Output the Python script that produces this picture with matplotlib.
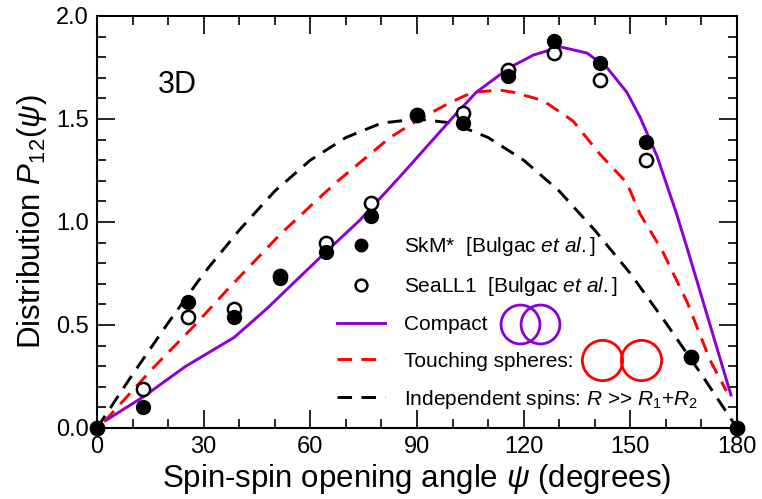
#!/usr/bin/env python3

import matplotlib
matplotlib.use('Agg')
import matplotlib.pyplot as plt
from matplotlib.lines import Line2D

plt.rcParams['font.family'] = ['Liberation Sans', 'DejaVu Sans']
plt.rcParams['mathtext.fontset'] = 'custom'
plt.rcParams['mathtext.rm'] = 'Liberation Sans'
plt.rcParams['mathtext.it'] = 'Liberation Sans:italic'
for a in ('xtick', 'ytick'):
    plt.rcParams[a + '.direction'] = 'in'
    plt.rcParams[a + '.major.size'] = 13
    plt.rcParams[a + '.minor.size'] = 6.5
    plt.rcParams[a + '.major.width'] = 1.2
    plt.rcParams[a + '.minor.width'] = 1.2
    plt.rcParams[a + '.color'] = 'black'
plt.rcParams['xtick.top'] = True
plt.rcParams['ytick.right'] = True

# Microscopic calculations (Bulgac et al.)
psi = [0, 12.86, 25.71, 38.57, 51.43, 64.29, 77.14, 90, 102.86, 115.71, 128.57, 141.43, 154.29, 167.14, 180]
skm = [0.0, 0.10, 0.61, 0.54, 0.73, 0.855, 1.03, 1.52, 1.48, 1.71, 1.88, 1.77, 1.39, 0.345, 0.0]
seall1 = [0.0, 0.19, 0.54, 0.58, 0.74, 0.90, 1.09, 1.52, 1.53, 1.74, 1.82, 1.69, 1.30, 0.345, 0.0]

# Compact configuration
compact_psi = [2.8, 12.9, 25.0, 38.6, 47.8, 64.7, 74.0, 85.2, 100.2, 106.7, 116.1, 122.7, 130.3,
               137.8, 143.4, 149.0, 152.7, 157.5, 163.0, 166.2, 178.3]
compact_P = [0.04, 0.15, 0.30, 0.44, 0.58, 0.86, 1.01, 1.22, 1.51, 1.63, 1.75, 1.81, 1.85,
             1.82, 1.75, 1.63, 1.51, 1.32, 1.04, 0.86, 0.16]

# Touching spheres
touch_psi = [2.0, 5.0, 15.7, 27.0, 36.6, 51.5, 62.7, 67.8, 82.4, 90.8, 99.3, 105.7, 113.3, 117.0,
             125.4, 133.9, 141.4, 149.0, 152.7, 159.0, 166.0, 172.4, 177.0]
touch_P = [0.03, 0.087, 0.29, 0.49, 0.67, 0.94, 1.12, 1.20, 1.41, 1.50, 1.58, 1.63, 1.64, 1.63,
           1.59, 1.49, 1.33, 1.19, 1.04, 0.86, 0.61, 0.33, 0.18]

# Independent spins
indep_psi = [0, 10, 20, 30, 40, 50, 60, 70, 80, 90, 100, 110, 120, 130, 140, 150, 160, 170, 180]
indep_P = [0.0, 0.26, 0.51, 0.75, 0.96, 1.15, 1.30, 1.41, 1.48, 1.50, 1.48, 1.41, 1.30, 1.15,
           0.96, 0.75, 0.51, 0.26, 0.0]

purple = '#8c00d4'
lw = 2.1
dash = (5.0, 3.2)

fig = plt.figure(figsize=(7.62, 4.99), dpi=100)
ax = fig.add_axes([0.1273, 0.1423, 0.8399, 0.8257])

ax.plot(indep_psi, indep_P, color='black', lw=lw, dashes=dash)
ax.plot(touch_psi, touch_P, color='red', lw=lw, dashes=dash)
ax.plot(compact_psi, compact_P, color=purple, lw=lw)
ax.plot(psi, seall1, 'o', ms=9.5, mfc='white', mec='black', mew=1.8, clip_on=False, zorder=5)
ax.plot(psi, skm, 'o', ms=10, color='black', clip_on=False, zorder=6)

ax.set_xlim(0, 180)
ax.set_ylim(0, 2.0)
ax.set_xticks(range(0, 181, 30))
ax.set_xticks(range(0, 181, 10), minor=True)
ax.set_yticks([0, 0.5, 1.0, 1.5, 2.0])
ax.set_yticklabels(['0.0', '0.5', '1.0', '1.5', '2.0'])
ax.set_yticks([i / 10 for i in range(21)], minor=True)
ax.tick_params(which='both', direction='in', top=True, right=True, labelsize=17, pad=6)
for s in ax.spines.values():
    s.set_linewidth(1.5)
    s.set_zorder(10)

ax.set_xlabel(r'Spin-spin opening angle $\psi$ (degrees)', fontsize=22.5, labelpad=3)
ax.set_ylabel(r'Distribution $P_{12}(\psi)$', fontsize=22.5, labelpad=5)

ax.text(22.5, 1.665, '3D', fontsize=22, ha='center', va='center')

handles = [
    Line2D([], [], ls='none', marker='o', ms=9, color='black'),
    Line2D([], [], ls='none', marker='o', ms=8.5, mfc='white', mec='black', mew=1.8),
    Line2D([], [], color=purple, lw=lw),
    Line2D([], [], color='red', lw=lw, dashes=dash),
    Line2D([], [], color='black', lw=lw, dashes=dash),
]
labels = [
    r'SkM*  [Bulgac $\mathit{et\ al.}$]',
    r'SeaLL1  [Bulgac $\mathit{et\ al.}$]',
    'Compact',
    'Touching spheres:',
    r'Independent spins: $R$ >> $R_1$+$R_2$',
]
ax.legend(handles, labels, loc='center left', bbox_to_anchor=(0.375, 0.255), frameon=False,
          fontsize=15, handlelength=2.3, handletextpad=0.9, labelspacing=0.82,
          borderpad=0, borderaxespad=0)

# little sketches of the configurations next to the legend entries
ax.plot([0.661, 0.692], [0.252, 0.252], 'o', ms=28, mfc='none', mec=purple, mew=2,
        transform=ax.transAxes)
ax.plot([0.789, 0.850], [0.165, 0.165], 'o', ms=29, mfc='none', mec='red', mew=2,
        transform=ax.transAxes)

fig.savefig('out.png', dpi=100)
